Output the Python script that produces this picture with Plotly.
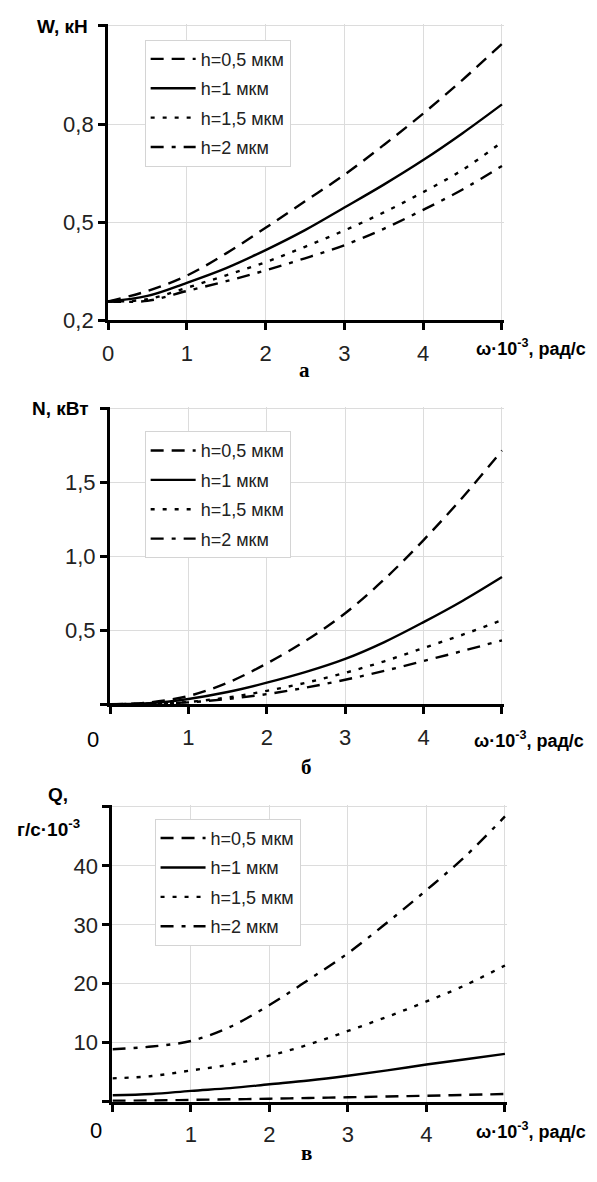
import plotly.graph_objects as go

# ---------------- data ----------------
omega = [0, 0.5, 1, 1.5, 2, 2.5, 3, 3.5, 4, 4.5, 5]
series_names = ["h=0,5 мкм", "h=1 мкм", "h=1,5 мкм", "h=2 мкм"]

W_h05 = [0.258, 0.29, 0.337, 0.405, 0.483, 0.564, 0.645, 0.736, 0.832, 0.935, 1.045]
W_h1 = [0.258, 0.275, 0.315, 0.36, 0.415, 0.476, 0.545, 0.615, 0.69, 0.772, 0.86]
W_h15 = [0.258, 0.265, 0.30, 0.338, 0.378, 0.425, 0.475, 0.53, 0.592, 0.66, 0.745]
W_h2 = [0.258, 0.26, 0.29, 0.32, 0.353, 0.39, 0.43, 0.48, 0.538, 0.60, 0.672]

N_h05 = [0, 0.012, 0.055, 0.145, 0.275, 0.43, 0.615, 0.845, 1.11, 1.40, 1.716]
N_h1 = [0, 0.006, 0.035, 0.082, 0.145, 0.218, 0.306, 0.42, 0.555, 0.70, 0.86]
N_h15 = [0, 0.003, 0.015, 0.045, 0.09, 0.145, 0.212, 0.29, 0.38, 0.47, 0.568]
N_h2 = [0, 0.002, 0.012, 0.035, 0.068, 0.112, 0.165, 0.225, 0.292, 0.36, 0.432]

Q_h05 = [0.15, 0.2, 0.3, 0.4, 0.5, 0.62, 0.75, 0.88, 1.0, 1.15, 1.3]
Q_h1 = [1.1, 1.3, 1.84, 2.3, 2.95, 3.6, 4.4, 5.3, 6.3, 7.2, 8.1]
Q_h15 = [3.96, 4.35, 5.3, 6.3, 7.8, 9.7, 12.0, 14.4, 17.0, 19.8, 23.1]
Q_h2 = [8.9, 9.36, 10.3, 12.7, 16.4, 20.7, 25.2, 30.4, 35.9, 41.7, 48.4]

x_ticks = [0, 1, 2, 3, 4, 5]
W_ticks = [0.2, 0.5, 0.8, 1.1]
W_ticktext = ["0,2", "0,5", "0,8", ""]
N_ticks = [0, 0.5, 1.0, 1.5, 2.0]
N_ticktext = ["", "0,5", "1,0", "1,5", ""]
Q_ticks = [0, 10, 20, 30, 40, 50]
Q_ticktext = ["", "10", "20", "30", "40", ""]

# ---------------- layout helpers ----------------
OFF = 8                      # default page body margin
FW, FH = 597 - OFF, 1182 - 2 * OFF
def px(x):
    return (x - OFF) / FW
def py(y):
    return 1 - (y - OFF) / FH

dashes = ["13px,8px", "solid", "4px,8px", "13px,8px,4px,8px"]
FONT = "Liberation Sans, Arial, sans-serif"
EXT = 1.006  # small range extension so the edge grid lines are drawn

panels = [
    dict(data=[W_h05, W_h1, W_h15, W_h2], xr=(103, 501), yr=(26, 324), rng=[0.2, 1.1],
         ticks=W_ticks, ticktext=W_ticktext, legend=(140, 40)),
    dict(data=[N_h05, N_h1, N_h15, N_h2], xr=(105, 501), yr=(413, 712), rng=[0, 2.0],
         ticks=N_ticks, ticktext=N_ticktext, legend=(140, 436)),
    dict(data=[Q_h05, Q_h1, Q_h15, Q_h2], xr=(107.5, 504), yr=(816, 1114), rng=[0, 50],
         ticks=Q_ticks, ticktext=Q_ticktext, legend=(150, 828)),
]

fig = go.Figure()
layout = dict(
    width=FW, height=FH, margin=dict(l=0, r=0, t=0, b=0),
    paper_bgcolor="white", plot_bgcolor="white",
    font=dict(family=FONT, color="#111"),
    showlegend=True,
)

for i, p in enumerate(panels):
    sfx = "" if i == 0 else str(i + 1)
    xa, ya = "x" + sfx, "y" + sfx
    lg = "legend" + sfx
    for j, (vals, name) in enumerate(zip(p["data"], series_names)):
        fig.add_trace(go.Scatter(
            x=omega, y=vals, name=name, mode="lines",
            line=dict(color="black", width=2.4, dash=dashes[j], shape="spline"),
            xaxis=xa, yaxis=ya, legend=lg, legendgroup=f"g{i}_{j}",
        ))
    x0, x1 = p["xr"]
    yt, yb = p["yr"]
    r0, r1 = p["rng"]
    x1e = x0 + (x1 - x0) * EXT
    yte = yb - (yb - yt) * EXT
    xt_text = ["0", "1", "2", "3", "4", ""] if i == 0 else ["", "1", "2", "3", "4", ""]
    layout["xaxis" + sfx] = dict(
        domain=[px(x0), px(x1e)], range=[0, 5 * EXT], anchor=ya,
        tickvals=x_ticks, ticktext=xt_text,
        showline=True, linecolor="black", linewidth=3,
        ticks="outside", ticklen=7, tickwidth=2.5, tickcolor="black",
        showgrid=True, gridcolor="#dcdcdc", gridwidth=1, zeroline=False,
        tickfont=dict(size=22, family=FONT, color="#222"),
        ticklabelstandoff=4,
    )
    layout["yaxis" + sfx] = dict(
        domain=[py(yb), py(yte)], range=[r0, r0 + (r1 - r0) * EXT], anchor=xa,
        tickvals=p["ticks"], ticktext=p["ticktext"],
        showline=True, linecolor="black", linewidth=3,
        ticks="outside", ticklen=7, tickwidth=2.5, tickcolor="black",
        showgrid=True, gridcolor="#dcdcdc", gridwidth=1, zeroline=False,
        tickfont=dict(size=22, family=FONT, color="#222"),
    )
    lx, ly = p["legend"]
    layout[lg] = dict(
        x=px(lx), y=py(ly), xanchor="left", yanchor="top",
        bgcolor="white", bordercolor="#d4d4d4", borderwidth=1,
        font=dict(size=18, family=FONT, color="#222"),
        itemwidth=45, tracegroupgap=3,
    )

fig.update_layout(**layout)

ann = []
def add_text(text, x, y, size=19, bold=True, family=FONT, xanchor="center"):
    t = "<b>" + text + "</b>" if bold else text
    ann.append(dict(text=t, x=px(x), y=py(y), xref="paper", yref="paper",
                    showarrow=False, xanchor=xanchor, yanchor="middle",
                    font=dict(size=size, family=family, color="black")))

xtitle = "ω·10<sup>-3</sup>, рад/с"
add_text("W, кН", 57, 27)
add_text(xtitle, 588, 351, size=18, xanchor="right")
add_text("а", 301, 374, size=21, family="Liberation Serif, serif")

add_text("N, кВт", 55, 413)
add_text(xtitle, 586, 748, size=18, xanchor="right")
add_text("0", 88, 748, size=22, bold=False)
add_text("б", 304, 776, size=21, family="Liberation Serif, serif")

add_text("Q,", 52, 803)
add_text("г/с·10<sup>-3</sup>", 43, 837)
add_text(xtitle, 588, 1143, size=18, xanchor="right")
add_text("0", 91, 1143, size=22, bold=False)
add_text("в", 304, 1166, size=21, family="Liberation Serif, serif")

fig.update_layout(annotations=ann)
fig.write_html("out.html")
